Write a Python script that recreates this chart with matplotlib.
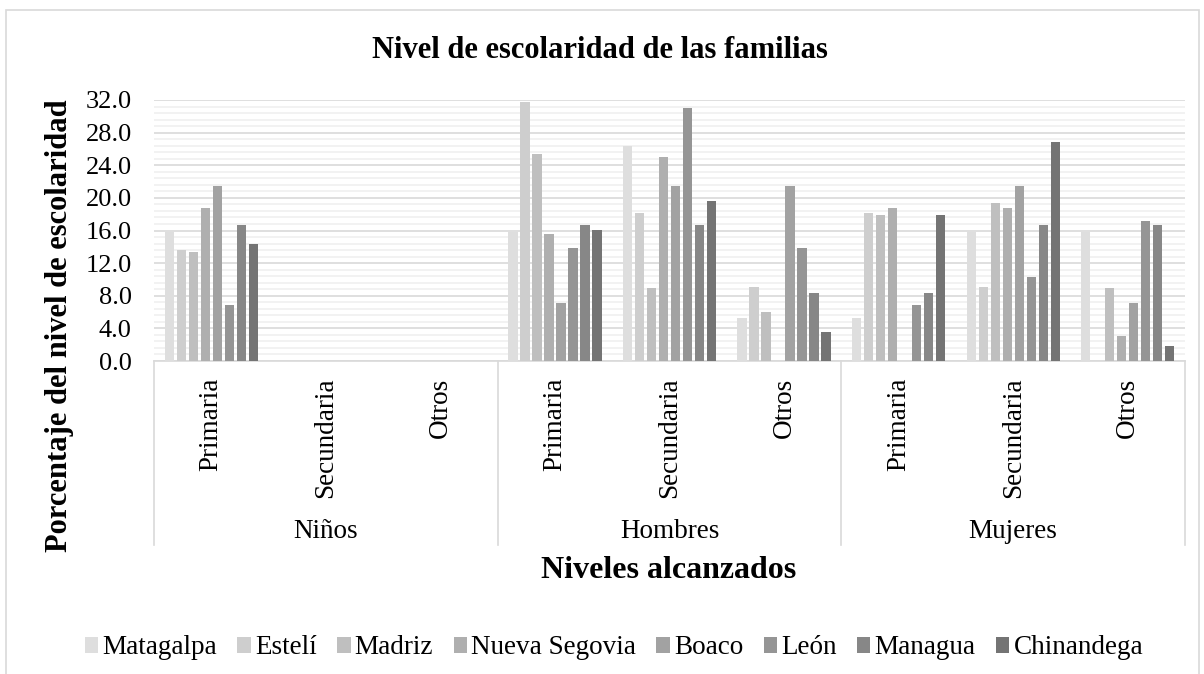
import numpy as np
import matplotlib
matplotlib.use("Agg")
from matplotlib import pyplot as plt
from matplotlib.patches import Rectangle, Patch
from matplotlib.ticker import MultipleLocator

plt.rcParams['font.family'] = ['Liberation Serif', 'DejaVu Serif']

# Datos
grupos = ['Niños', 'Hombres', 'Mujeres']
niveles = ['Primaria', 'Secundaria', 'Otros']
municipios = ['Matagalpa', 'Estelí', 'Madriz', 'Nueva Segovia', 'Boaco', 'León', 'Managua', 'Chinandega']

# valores por municipio: Niños (P, S, O), Hombres (P, S, O), Mujeres (P, S, O)
matagalpa = [15.8, 0, 0, 15.8, 26.3, 5.3, 5.3, 15.8, 15.8]
esteli = [13.6, 0, 0, 31.8, 18.2, 9.1, 18.2, 9.1, 0]
madriz = [13.4, 0, 0, 25.4, 9.0, 6.0, 17.9, 19.4, 9.0]
nueva_segovia = [18.8, 0, 0, 15.6, 25.0, 0, 18.8, 18.8, 3.1]
boaco = [21.4, 0, 0, 7.1, 21.4, 21.4, 0, 21.4, 7.1]
leon = [6.9, 0, 0, 13.8, 31.0, 13.8, 6.9, 10.3, 17.2]
managua = [16.7, 0, 0, 16.7, 16.7, 8.3, 8.3, 16.7, 16.7]
chinandega = [14.3, 0, 0, 16.1, 19.6, 3.6, 17.9, 26.8, 1.8]

series = [matagalpa, esteli, madriz, nueva_segovia, boaco, leon, managua, chinandega]
colores = ['#dedede', '#cecece', '#bfbfbf', '#afafaf', '#a2a2a2', '#959595', '#878787', '#747474']

W, H = 1204, 674
fig = plt.figure(figsize=(W / 100, H / 100), dpi=100)
ax = fig.add_axes([154 / W, 1 - 361 / H, (1185 - 154) / W, (361 - 100) / H])

x = np.arange(len(grupos) * len(niveles))
paso = 0.1047
ancho = 0.08
for i, (vals, c) in enumerate(zip(series, colores)):
    ax.bar(x + (i - 3.5) * paso, vals, width=ancho, color=c, zorder=3)

ax.set_xlim(-0.5, len(x) - 0.5)
ax.set_ylim(0, 32)
ax.yaxis.set_minor_locator(MultipleLocator(0.8))
ax.set_yticks(np.arange(0, 33, 4))
ax.set_yticklabels(['%.1f' % v for v in np.arange(0, 33, 4)], fontsize=19)
ax.grid(axis='y', which='minor', color='#f0f0f0', linewidth=1.2, zorder=0)
ax.grid(axis='y', which='major', color='#d9d9d9', linewidth=1.2, zorder=1)
ax.tick_params(axis='y', which='both', length=0, pad=16)

for s in ['top', 'right', 'left']:
    ax.spines[s].set_visible(False)
ax.spines['bottom'].set_color('#d9d9d9')
ax.spines['bottom'].set_linewidth(1.2)

# eje de categorias de dos niveles
ax.set_xticks(x)
ax.set_xticklabels(niveles * len(grupos), rotation=90, fontsize=19.5)
ax.tick_params(axis='x', length=0, pad=12)

trans = ax.get_xaxis_transform()
for k in range(len(grupos) + 1):
    xs = k * len(niveles) - 0.5
    ax.plot([xs, xs], [0, -0.705], transform=trans, color='#d9d9d9', lw=1.2, clip_on=False)
for k, g in enumerate(grupos):
    ax.text(k * len(niveles) + 1, -0.655, g, transform=trans, ha='center', va='center', fontsize=19.5)

# textos
fig.text(600 / W, 1 - 51 / H, 'Nivel de escolaridad de las familias', ha='center', va='center',
         fontsize=22, fontweight='bold')
fig.text(669 / W, 1 - 570 / H, 'Niveles alcanzados', ha='center', va='center',
         fontsize=23, fontweight='bold')
fig.text(60 / W, 1 - 326 / H, 'Porcentaje del nivel de escolaridad', ha='center', va='center',
         rotation=90, fontsize=22, fontweight='bold')

handles = [Patch(facecolor=c) for c in colores]
fig.legend(handles, municipios, loc='center', bbox_to_anchor=(614 / W, 1 - 648 / H), ncol=8,
           frameon=False, fontsize=19.5, handlelength=0.5, handleheight=0.5,
           handletextpad=0.15, columnspacing=0.75, borderpad=0, borderaxespad=0)

# marco del grafico
fig.patches.append(Rectangle((6 / W, -0.1), (1199 - 6) / W, 1.1 - 10 / H, transform=fig.transFigure,
                             fill=False, edgecolor='#d9d9d9', lw=1.2))

fig.savefig('out.png', dpi=100)
